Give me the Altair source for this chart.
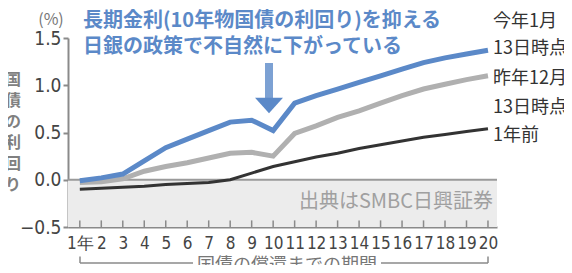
import altair as alt
import pandas as pd

years = list(range(1, 21))
jan13 = [-0.01, 0.02, 0.06, 0.20, 0.34, 0.43, 0.52, 0.61, 0.63, 0.52,
         0.81, 0.89, 0.96, 1.03, 1.10, 1.17, 1.24, 1.29, 1.33, 1.37]
dec13 = [-0.03, -0.02, 0.01, 0.09, 0.14, 0.18, 0.23, 0.28, 0.29, 0.25,
         0.49, 0.57, 0.66, 0.73, 0.81, 0.89, 0.96, 1.01, 1.06, 1.10]
year_ago = [-0.10, -0.09, -0.08, -0.07, -0.05, -0.04, -0.03, 0.00, 0.07, 0.14,
            0.19, 0.24, 0.28, 0.33, 0.37, 0.41, 0.45, 0.48, 0.51, 0.54]
y_ticks = [-0.5, 0.0, 0.5, 1.0, 1.5]
series_labels = ["今年1月", "13日時点", "昨年12月", "13日時点", "1年前"]
note_lines = ["長期金利(10年物国債の利回り)を抑える", "日銀の政策で不自然に下がっている"]
y_title = ["国", "債", "の", "利", "回", "り"]

W, H = 429, 189
NARROW = "DejaVu Sans Condensed, Liberation Sans Narrow, Liberation Sans, sans-serif"
JP = "Noto Sans CJK JP"
BLUE = "#5b89c8"

xs = alt.Scale(domain=[0.45, 20.42], nice=False, zero=False)
ys = alt.Scale(domain=[-0.5, 1.5], nice=False, zero=False)

xaxis = alt.Axis(values=years, labelExpr="datum.value == 1 ? '1年' : datum.label",
                 ticks=False, grid=False, domainColor="#8a8a8a", domainWidth=2,
                 labelFont=NARROW, labelFontSize=17, labelColor="#444",
                 labelPadding=8, labelOverlap=False, labelFlush=False, title=None)
yaxis = alt.Axis(values=y_ticks, format=".1f", tickSize=5, tickColor="#8a8a8a",
                 tickWidth=2, domainColor="#8a8a8a", domainWidth=2, grid=False,
                 labelFont=NARROW, labelFontSize=19, labelColor="#444",
                 labelPadding=2, labelOverlap=False, title=None)

df = pd.DataFrame({"year": years, "jan": jan13, "dec": dec13, "ago": year_ago})
base = alt.Chart(df)
one = alt.Chart(pd.DataFrame({"k": [0]}))

band = one.mark_rect(color="#ececec").encode(
    x=alt.value(0), x2=alt.value(W),
    y=alt.datum(0, scale=ys, axis=yaxis), y2=alt.datum(-0.5))
zero = one.mark_rule(color="#9a9a9a", strokeWidth=2).encode(
    x=alt.value(0), x2=alt.value(W), y=alt.datum(0, scale=ys, axis=yaxis))

ticks = base.mark_rule(color="#8a8a8a", strokeWidth=1.5).encode(
    x=alt.X("year:Q", scale=xs, axis=xaxis),
    y=alt.datum(-0.5, scale=ys, axis=yaxis), y2=alt.datum(-0.43))

line_ago = base.mark_line(color="#333333", strokeWidth=3).encode(
    x=alt.X("year:Q", scale=xs, axis=xaxis), y=alt.Y("ago:Q", scale=ys, axis=yaxis))
line_dec = base.mark_line(color="#b0b0b0", strokeWidth=5).encode(
    x=alt.X("year:Q", scale=xs, axis=xaxis), y=alt.Y("dec:Q", scale=ys, axis=yaxis))
line_jan = base.mark_line(color=BLUE, strokeWidth=5).encode(
    x=alt.X("year:Q", scale=xs, axis=xaxis), y=alt.Y("jan:Q", scale=ys, axis=yaxis))

def txt(s, x, y, **kw):
    return one.mark_text(text=s, **kw).encode(x=alt.value(x), y=alt.value(y))

texts = [
    txt("(%)", -17, -18.5, font=JP, fontSize=16, color="#777"),
    txt(note_lines[0], 15, -17.5, font=JP, fontSize=20, fontWeight="bold", color=BLUE, align="left"),
    txt(note_lines[1], 15, 8.5, font=JP, fontSize=20, fontWeight="bold", color=BLUE, align="left"),
    txt(series_labels[0], 425, -16.5, font=JP, fontSize=18, color="#333", align="left"),
    txt(series_labels[1], 425, 10.5, font=JP, fontSize=18, color="#333", align="left"),
    txt(series_labels[2], 425, 40.5, font=JP, fontSize=18, color="#333", align="left"),
    txt(series_labels[3], 425, 69.5, font=JP, fontSize=18, color="#333", align="left"),
    txt(series_labels[4], 425, 97.5, font=JP, fontSize=18, color="#333", align="left"),
    txt("出典はSMBC日興証券", 425, 163.5, font=JP, fontSize=20, color="#a0a0a0", align="right"),
    txt("国債の償還までの期間", 219, 228, font=JP, fontSize=18, color="#777"),
    one.mark_text(text=y_title, font=JP, fontSize=16, fontWeight="bold", color="#808080",
                  lineHeight=21, baseline="top").encode(x=alt.value(-55), y=alt.value(34)),
]

arrow_shaft = one.mark_rule(color=BLUE, strokeWidth=8, opacity=0.8).encode(
    x=alt.value(201), y=alt.value(25), y2=alt.value(60))
arrow_head = one.mark_point(shape="M-1,-0.55L1,-0.55L0,0.55Z", size=784, filled=True,
                            color=BLUE, opacity=1).encode(x=alt.value(201), y=alt.value(67.5))

RC = "#8a8a8a"
bracket = [
    one.mark_rule(color=RC, strokeWidth=1.5).encode(x=alt.value(12), x2=alt.value(125), y=alt.value(225)),
    one.mark_rule(color=RC, strokeWidth=1.5).encode(x=alt.value(313), x2=alt.value(420), y=alt.value(225)),
    one.mark_rule(color=RC, strokeWidth=1.5).encode(x=alt.value(12), y=alt.value(218.5), y2=alt.value(225)),
    one.mark_rule(color=RC, strokeWidth=1.5).encode(x=alt.value(420), y=alt.value(218.5), y2=alt.value(225)),
]

chart = alt.layer(band, zero, ticks, line_ago, line_dec, line_jan,
                  arrow_shaft, arrow_head, *texts, *bracket).properties(
    width=W, height=H,
    padding={"left": 60, "top": 30, "right": 67, "bottom": 38},
    autosize=alt.AutoSizeParams(type="none"),
    background="white",
).configure_view(stroke=None)

chart.save("out.html", embed_options={"renderer": "svg", "actions": False})
